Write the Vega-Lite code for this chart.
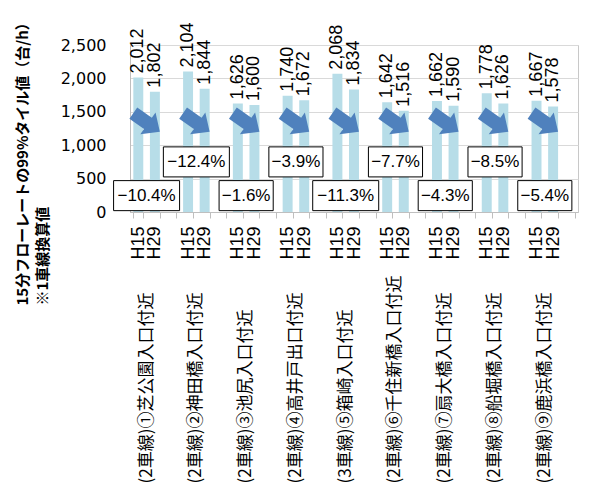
{
  "$schema": "https://vega.github.io/schema/vega-lite/v6.json",
  "width": 448,
  "height": 167,
  "autosize": {"type": "none"},
  "padding": {"left": 130, "top": 45, "right": 11, "bottom": 287},
  "background": "white",
  "config": {
    "view": {"stroke": "#c8c8c8", "strokeWidth": 1},
    "axis": {"domainColor": "#bfbfbf", "tickColor": "#bfbfbf", "gridColor": "#d9d9d9", "labelColor": "black"}
  },
  "datasets": {
    "flows": [
      {"site": "(2車線)①芝公園入口付近", "year": "H15", "slot": "1-H15", "value": 2012},
      {"site": "(2車線)①芝公園入口付近", "year": "H29", "slot": "1-H29", "value": 1802},
      {"site": "(2車線)②神田橋入口付近", "year": "H15", "slot": "2-H15", "value": 2104},
      {"site": "(2車線)②神田橋入口付近", "year": "H29", "slot": "2-H29", "value": 1844},
      {"site": "(2車線)③池尻入口付近", "year": "H15", "slot": "3-H15", "value": 1626},
      {"site": "(2車線)③池尻入口付近", "year": "H29", "slot": "3-H29", "value": 1600},
      {"site": "(2車線)④高井戸出口付近", "year": "H15", "slot": "4-H15", "value": 1740},
      {"site": "(2車線)④高井戸出口付近", "year": "H29", "slot": "4-H29", "value": 1672},
      {"site": "(3車線)⑤箱崎入口付近", "year": "H15", "slot": "5-H15", "value": 2068},
      {"site": "(3車線)⑤箱崎入口付近", "year": "H29", "slot": "5-H29", "value": 1834},
      {"site": "(2車線)⑥千住新橋入口付近", "year": "H15", "slot": "6-H15", "value": 1642},
      {"site": "(2車線)⑥千住新橋入口付近", "year": "H29", "slot": "6-H29", "value": 1516},
      {"site": "(2車線)⑦扇大橋入口付近", "year": "H15", "slot": "7-H15", "value": 1662},
      {"site": "(2車線)⑦扇大橋入口付近", "year": "H29", "slot": "7-H29", "value": 1590},
      {"site": "(2車線)⑧船堀橋入口付近", "year": "H15", "slot": "8-H15", "value": 1778},
      {"site": "(2車線)⑧船堀橋入口付近", "year": "H29", "slot": "8-H29", "value": 1626},
      {"site": "(2車線)⑨鹿浜橋入口付近", "year": "H15", "slot": "9-H15", "value": 1667},
      {"site": "(2車線)⑨鹿浜橋入口付近", "year": "H29", "slot": "9-H29", "value": 1578}
    ],
    "changes": [
      {"site": "(2車線)①芝公園入口付近", "pct": "−10.4%"},
      {"site": "(2車線)②神田橋入口付近", "pct": "−12.4%"},
      {"site": "(2車線)③池尻入口付近", "pct": "−1.6%"},
      {"site": "(2車線)④高井戸出口付近", "pct": "−3.9%"},
      {"site": "(3車線)⑤箱崎入口付近", "pct": "−11.3%"},
      {"site": "(2車線)⑥千住新橋入口付近", "pct": "−7.7%"},
      {"site": "(2車線)⑦扇大橋入口付近", "pct": "−4.3%"},
      {"site": "(2車線)⑧船堀橋入口付近", "pct": "−8.5%"},
      {"site": "(2車線)⑨鹿浜橋入口付近", "pct": "−5.4%"}
    ]
  },
  "layer": [
    {
      "data": {"name": "flows"},
      "encoding": {
        "x": {
          "field": "slot", "type": "nominal",
          "scale": {
            "type": "band",
            "domain": ["1-H15","1-H29","1-","2-H15","2-H29","2-","3-H15","3-H29","3-","4-H15","4-H29","4-","5-H15","5-H29","5-","6-H15","6-H29","6-","7-H15","7-H29","7-","8-H15","8-H29","8-","9-H15","9-H29","9-"],
            "paddingInner": 0.4, "paddingOuter": 0.2
          },
          "axis": {
            "title": null, "orient": "bottom",
            "labelExpr": "split(datum.value, '-')[1]",
            "labelAngle": 270, "labelAlign": "right", "labelBaseline": "middle",
            "labelFont": "Liberation Sans", "labelFontSize": 18, "labelPadding": 8,
            "tickBand": "extent", "tickSize": 6, "labelOverlap": false, "labelBound": false, "labelLimit": 100
          }
        },
        "y": {
          "field": "value", "type": "quantitative",
          "scale": {"domain": [0, 2500], "nice": false},
          "axis": {
            "values": [0, 500, 1000, 1500, 2000, 2500], "labelExpr": "format(datum.value, ',')",
            "labelFont": "DejaVu Sans", "labelFontSize": 16, "labelPadding": 24,
            "ticks": false, "grid": true,
            "title": ["15分フローレートの99%タイル値（台/h）", "※1車線換算値"],
            "titleFont": "Noto Sans CJK JP", "titleFontWeight": "bold", "titleFontSize": 15,
            "titleAngle": 270, "titleAlign": "left", "titleBaseline": "top",
            "titleX": -115, "titleY": 260, "titleLineHeight": 20, "titleColor": "black"
          }
        }
      },
      "layer": [
        {"mark": {"type": "bar", "color": "#b7dde8"}},
        {
          "mark": {"type": "text", "angle": 270, "align": "left", "baseline": "middle", "dx": 4, "font": "Liberation Sans", "fontSize": 18, "color": "black"},
          "encoding": {"text": {"field": "value", "type": "quantitative", "format": ","}}
        }
      ]
    },
    {
      "data": {"name": "changes"},
      "transform": [{"calculate": "length(datum.pct)", "as": "len"}],
      "encoding": {
        "x": {
          "field": "site", "type": "nominal", "sort": null,
          "scale": {"type": "band", "paddingInner": 0.3333, "paddingOuter": 0.16667, "align": 0},
          "axis": {
            "title": null, "orient": "bottom",
            "labelAngle": 270, "labelAlign": "left", "labelBaseline": "middle",
            "labelFont": "Noto Sans CJK JP", "labelFontSize": 17, "labelPadding": 271,
            "ticks": false, "domain": false, "labelOverlap": false, "labelBound": false, "labelLimit": 400
          }
        }
      },
      "layer": [
        {
          "mark": {"type": "point", "shape": "M-1,-0.42L0.1,-0.42L0.1,-0.82L1,0L0.1,0.82L0.1,0.42L-1,0.42Z", "filled": true, "fill": "#4f81bd", "size": 1050, "angle": 35, "opacity": 1, "strokeWidth": 0},
          "encoding": {"y": {"datum": 1340, "type": "quantitative", "axis": {
            "values": [0, 500, 1000, 1500, 2000, 2500], "labelExpr": "format(datum.value, ',')",
            "labelFont": "DejaVu Sans", "labelFontSize": 16, "labelPadding": 24,
            "ticks": false, "grid": true,
            "title": ["15分フローレートの99%タイル値（台/h）", "※1車線換算値"],
            "titleFont": "Noto Sans CJK JP", "titleFontWeight": "bold", "titleFontSize": 15,
            "titleAngle": 270, "titleAlign": "left", "titleBaseline": "top",
            "titleX": -115, "titleY": 260, "titleLineHeight": 20, "titleColor": "black"
          }}}
        },
        {
          "transform": [{"filter": {"field": "site", "oneOf": ["(2車線)①芝公園入口付近", "(2車線)③池尻入口付近", "(3車線)⑤箱崎入口付近", "(2車線)⑦扇大橋入口付近", "(2車線)⑨鹿浜橋入口付近"]}}],
          "encoding": {"y": {"datum": 245, "type": "quantitative", "axis": {
            "values": [0, 500, 1000, 1500, 2000, 2500], "labelExpr": "format(datum.value, ',')",
            "labelFont": "DejaVu Sans", "labelFontSize": 16, "labelPadding": 24,
            "ticks": false, "grid": true,
            "title": ["15分フローレートの99%タイル値（台/h）", "※1車線換算値"],
            "titleFont": "Noto Sans CJK JP", "titleFontWeight": "bold", "titleFontSize": 15,
            "titleAngle": 270, "titleAlign": "left", "titleBaseline": "top",
            "titleX": -115, "titleY": 260, "titleLineHeight": 20, "titleColor": "black"
          }}},
          "layer": [
            {
              "mark": {"type": "point", "filled": true, "fill": "white", "stroke": "black", "strokeWidth": 1, "opacity": 1, "size": 4356},
              "encoding": {"shape": {"field": "len", "type": "nominal", "scale": {"domain": [6, 5], "range": ["M-1,-0.455H1V0.455H-1Z", "M-0.82,-0.455H0.82V0.455H-0.82Z"]}, "legend": null}}
            },
            {
              "mark": {"type": "text", "font": "Liberation Sans", "fontSize": 17, "color": "black", "baseline": "middle", "align": "center"},
              "encoding": {"text": {"field": "pct"}}
            }
          ]
        },
        {
          "transform": [{"filter": {"field": "site", "oneOf": ["(2車線)②神田橋入口付近", "(2車線)④高井戸出口付近", "(2車線)⑥千住新橋入口付近", "(2車線)⑧船堀橋入口付近"]}}],
          "encoding": {"y": {"datum": 750, "type": "quantitative", "axis": {
            "values": [0, 500, 1000, 1500, 2000, 2500], "labelExpr": "format(datum.value, ',')",
            "labelFont": "DejaVu Sans", "labelFontSize": 16, "labelPadding": 24,
            "ticks": false, "grid": true,
            "title": ["15分フローレートの99%タイル値（台/h）", "※1車線換算値"],
            "titleFont": "Noto Sans CJK JP", "titleFontWeight": "bold", "titleFontSize": 15,
            "titleAngle": 270, "titleAlign": "left", "titleBaseline": "top",
            "titleX": -115, "titleY": 260, "titleLineHeight": 20, "titleColor": "black"
          }}},
          "layer": [
            {
              "mark": {"type": "point", "filled": true, "fill": "white", "stroke": "black", "strokeWidth": 1, "opacity": 1, "size": 4356},
              "encoding": {"shape": {"field": "len", "type": "nominal", "scale": {"domain": [6, 5], "range": ["M-1,-0.455H1V0.455H-1Z", "M-0.82,-0.455H0.82V0.455H-0.82Z"]}, "legend": null}}
            },
            {
              "mark": {"type": "text", "font": "Liberation Sans", "fontSize": 17, "color": "black", "baseline": "middle", "align": "center"},
              "encoding": {"text": {"field": "pct"}}
            }
          ]
        }
      ]
    }
  ],
  "resolve": {"scale": {"x": "independent"}, "axis": {"x": "independent"}}
}
